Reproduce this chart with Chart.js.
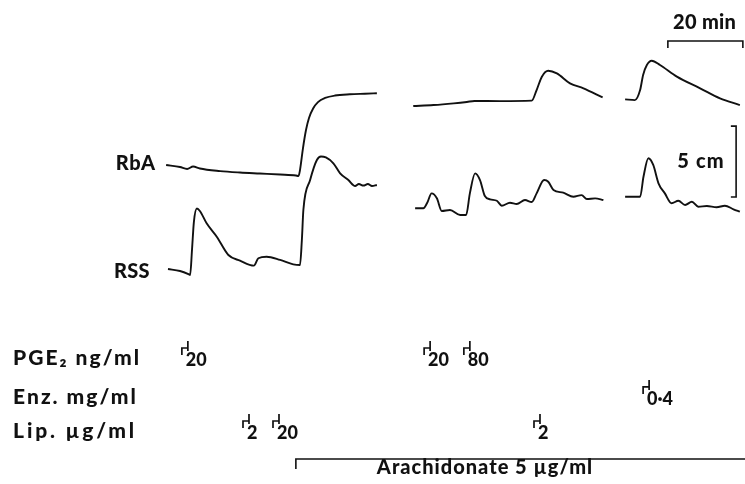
<!DOCTYPE html>
<html>
<head>
<meta charset="utf-8">
<script src="https://cdn.jsdelivr.net/npm/chart.js@4.4.1/dist/chart.umd.min.js"></script>
<style>
  html, body { margin: 0; padding: 0; background: #ffffff; }
  #wrap { width: 745px; height: 484px; }
</style>
</head>
<body>
<div id="wrap"><canvas id="c" width="745" height="484"></canvas></div>
<script>
// ---- Data: time in minutes, pen deflection in cm (read from the record) ----
// RbA (rabbit aorta) trace, three recorded segments
const rbaTime1 = [0.3, 4.0, 5.9, 7.5, 9.3, 14.7, 20.0, 25.3, 30.7, 34.9, 35.6, 36.0, 36.8, 37.6, 38.4, 39.5, 40.8, 42.7, 45.3, 49.3, 53.3, 56.5];
const rbaCm1   = [9.51, 9.37, 9.23, 9.40, 9.26, 9.08, 8.98, 8.91, 8.84, 8.77, 8.73, 9.15, 10.70, 11.97, 12.82, 13.49, 13.94, 14.23, 14.40, 14.49, 14.53, 14.56];
const rbaTime2 = [66.2, 71.6, 77.0, 80.5, 82.5, 89.3, 97.8, 99.1, 100.5, 102.2, 104.5, 108.0, 111.6, 116.7];
const rbaCm2   = [13.66, 13.73, 13.85, 13.95, 14.02, 14.01, 14.04, 14.79, 15.73, 16.15, 15.96, 15.26, 14.91, 14.27];
const rbaTime3 = [122.7, 125.3, 126.7, 127.5, 128.5, 129.8, 132.0, 136.5, 142.7, 148.0, 153.3];
const rbaCm3   = [14.13, 14.08, 14.79, 15.85, 16.55, 16.85, 16.55, 15.73, 14.91, 14.20, 13.73];

// RSS (rat stomach strip) trace, three recorded segments
const rssTime1 = [0.8, 4.0, 6.4, 6.7, 7.2, 7.7, 8.5, 9.3, 11.1, 13.8, 16.9, 20.0, 23.7, 24.9, 27.1, 30.7, 34.2, 36.0, 36.5, 36.9, 38.7, 40.5, 41.6, 42.9, 44.9, 46.7, 48.9, 50.7, 51.7, 52.9, 54.1, 55.2, 56.5];
const rssCm1   = [2.18, 2.04, 1.80, 1.76, 3.52, 5.49, 6.44, 6.27, 5.40, 4.46, 3.17, 2.77, 2.42, 2.94, 3.05, 2.82, 2.51, 2.46, 4.23, 6.34, 8.45, 9.86, 10.11, 10.04, 9.63, 8.92, 8.45, 8.03, 8.17, 8.06, 8.17, 8.03, 8.10];
const rssTime2 = [66.7, 68.9, 69.9, 71.1, 72.5, 73.8, 76.0, 78.7, 80.3, 81.3, 82.7, 84.0, 85.3, 86.7, 88.5, 89.8, 92.0, 93.8, 96.0, 97.8, 99.1, 101.1, 102.2, 103.6, 106.2, 108.9, 111.1, 112.5, 114.7, 116.9];
const rssCm2   = [6.46, 6.46, 6.83, 7.51, 7.16, 6.27, 6.34, 5.99, 5.99, 7.51, 8.92, 8.45, 7.32, 7.09, 6.99, 6.64, 6.85, 6.76, 7.04, 6.90, 7.51, 8.45, 8.33, 7.75, 7.56, 7.27, 7.39, 7.11, 7.16, 7.04];
const rssTime3 = [122.7, 126.7, 127.6, 128.9, 130.2, 131.6, 133.3, 135.1, 136.9, 138.7, 140.5, 142.2, 144.5, 147.1, 149.3, 151.6, 153.3];
const rssCm3   = [7.27, 7.27, 8.68, 9.98, 9.51, 8.22, 7.51, 6.81, 6.99, 6.69, 6.92, 6.57, 6.62, 6.53, 6.64, 6.39, 6.22];

// Drug additions (time in minutes) and their labels
const pgeTimes  = [4.5, 69.1, 79.7];
const pgeLabels = ['20', '20', '80'];
const enzTimes  = [127.5];
const enzLabels = ['0\u00b74'];
const lipTimes  = [20.8, 28.8, 98.4];
const lipLabels = ['2', '20', '2'];
const arachidonateStart = 34.9;   // min, continues to end of record
const arachidonateEnd   = 155;

// Calibration bars
const timeBar = [134.1, 154.1];   // 20 min
const cmBar   = [7.25, 12.25];    // 5 cm

// Row labels
const rowLabels = ['PGE\u2082 ng/ml', 'Enz. mg/ml', 'Lip. \u00b5g/ml'];
const traceLabels = ['RbA', 'RSS'];

// ---- Layout constants (axis extents, in data units) ----
const X_MIN = -44, X_MAX = 154.67;
const Y_MIN = -12.96, Y_MAX = 21.13;
const ROW_BASE = [-4.58, -7.32, -9.72];   // baselines of the three dose rows (cm)
const ARACH_Y = -11.2;

function pts(ts, vs) { return ts.map((t, i) => ({ x: t, y: vs[i] })); }

const traceStyle = {
  borderColor: '#111', borderWidth: 1.9, pointRadius: 0, fill: false,
  cubicInterpolationMode: 'monotone'
};
const barStyle = { borderColor: '#111', borderWidth: 1.6, pointRadius: 0, fill: false, tension: 0 };

const datasets = [
  Object.assign({ label: 'RbA 1', data: pts(rbaTime1, rbaCm1) }, traceStyle),
  Object.assign({ label: 'RbA 2', data: pts(rbaTime2, rbaCm2) }, traceStyle),
  Object.assign({ label: 'RbA 3', data: pts(rbaTime3, rbaCm3) }, traceStyle),
  Object.assign({ label: 'RSS 1', data: pts(rssTime1, rssCm1) }, traceStyle),
  Object.assign({ label: 'RSS 2', data: pts(rssTime2, rssCm2) }, traceStyle),
  Object.assign({ label: 'RSS 3', data: pts(rssTime3, rssCm3) }, traceStyle),
  // 20 min calibration bracket
  Object.assign({ label: '20 min', data: [
    { x: timeBar[0], y: 17.75 }, { x: timeBar[0], y: 18.24 },
    { x: timeBar[1], y: 18.24 }, { x: timeBar[1], y: 17.75 }] }, barStyle),
  // 5 cm calibration bracket
  Object.assign({ label: '5 cm', data: [
    { x: 150.9, y: cmBar[1] }, { x: 152.3, y: cmBar[1] },
    { x: 152.3, y: cmBar[0] }, { x: 150.9, y: cmBar[0] }] }, barStyle),
  // Arachidonate bar
  Object.assign({ label: 'Arachidonate', data: [
    { x: arachidonateStart, y: ARACH_Y - 0.7 }, { x: arachidonateStart, y: ARACH_Y },
    { x: arachidonateEnd, y: ARACH_Y }] }, barStyle)
];

const FONT = '"Lato", "DejaVu Sans", sans-serif';

function txt(ctx, s, x, y, font, spacing, align) {
  ctx.font = font;
  ctx.letterSpacing = (spacing || 0) + 'px';
  ctx.textAlign = align || 'left';
  ctx.fillText(s, x, y);
  ctx.letterSpacing = '0px';
}

const annotate = {
  id: 'annotate',
  afterDatasetsDraw(chart) {
    const ctx = chart.ctx, xs = chart.scales.x, ys = chart.scales.y;
    const X = v => xs.getPixelForValue(v), Y = v => ys.getPixelForValue(v);
    ctx.save();
    ctx.fillStyle = '#111';
    ctx.strokeStyle = '#111';
    ctx.textBaseline = 'alphabetic';

    const F20 = '900 20px ' + FONT;
    // trace labels
    txt(ctx, traceLabels[0], X(-13.1), Y(9.15), F20, 0.5);
    txt(ctx, traceLabels[1], X(-13.6), Y(1.55), F20, 0.3);

    // calibration labels
    txt(ctx, '5 cm', X(149.3), Y(9.3), F20, 1.2, 'right');
    txt(ctx, '20 min', X(143.9), Y(19.08), F20, 0.3, 'center');

    // row labels
    rowLabels.forEach((lab, i) =>
      txt(ctx, lab, X(-40.5), Y(ROW_BASE[i]), '900 21px ' + FONT, i === 2 ? 2.8 : 2.0));

    // dose markers
    const rows = [[pgeTimes, pgeLabels], [enzTimes, enzLabels], [lipTimes, lipLabels]];
    ctx.lineWidth = 1.7;
    rows.forEach(([times, labels], r) => {
      const base = Y(ROW_BASE[r]);
      times.forEach((t, i) => {
        const x = X(t);
        const top = base - 17;
        ctx.beginPath();
        ctx.moveTo(x, top + 7); ctx.lineTo(x, top); ctx.lineTo(x + 6, top);
        ctx.moveTo(x + 6, top - 7); ctx.lineTo(x + 6, top + 3);
        ctx.stroke();
        txt(ctx, labels[i], x + 4, base + 1, '900 18px ' + FONT, 0);
      });
    });

    // arachidonate label
    txt(ctx, 'Arachidonate 5 \u00b5g/ml', X(56.5), Y(-12.25), F20, 1.0);
    ctx.restore();
  }
};

new Chart(document.getElementById('c'), {
  type: 'line',
  data: { datasets },
  options: {
    responsive: false,
    animation: false,
    events: [],
    layout: { padding: 0 },
    plugins: { legend: { display: false }, tooltip: { enabled: false } },
    scales: {
      x: { type: 'linear', min: X_MIN, max: X_MAX, display: false },
      y: { type: 'linear', min: Y_MIN, max: Y_MAX, display: false }
    }
  },
  plugins: [annotate]
});
</script>
</body>
</html>
